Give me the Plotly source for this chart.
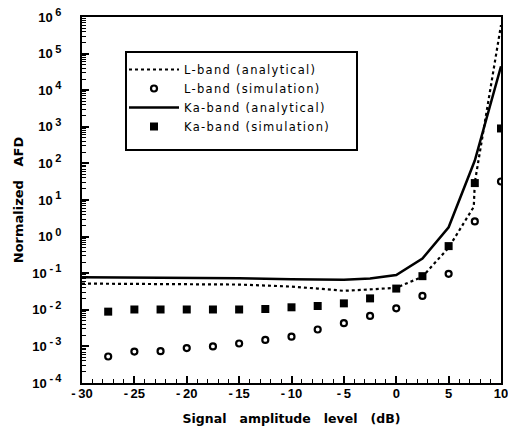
import plotly.graph_objects as go

# ---- data ----
sim_x = [-27.5, -25, -22.5, -20, -17.5, -15, -12.5, -10, -7.5, -5, -2.5, 0, 2.5, 5, 7.5, 10]
l_sim = [5.3e-4, 7.2e-4, 7.4e-4, 9.0e-4, 1.0e-3, 1.2e-3, 1.5e-3, 1.84e-3, 2.9e-3, 4.3e-3,
         6.8e-3, 1.1e-2, 2.4e-2, 0.096, 2.6, 32]
ka_sim = [0.0089, 0.0102, 0.0102, 0.0102, 0.0102, 0.0102, 0.0105, 0.0117, 0.0127, 0.015,
          0.0205, 0.038, 0.083, 0.55, 29, 900]

l_an_x = [-30, -25, -20, -15, -12.5, -10, -7.5, -5, -2.5, 0, 2.5, 5, 7.4, 7.5, 10]
l_an = [0.052, 0.051, 0.050, 0.049, 0.046, 0.043, 0.038, 0.033, 0.036, 0.040, 0.08, 0.5,
        6.5, 30, 6e5]

ka_an_x = [-30, -25, -20, -15, -10, -5, -2.5, 0, 2.5, 5, 7.5, 10]
ka_an = [0.077, 0.076, 0.075, 0.073, 0.068, 0.066, 0.072, 0.089, 0.25, 1.8, 120, 4.5e4]

names = ["L-band (analytical)", "L-band (simulation)", "Ka-band (analytical)", "Ka-band (simulation)"]

x_ticks = [-30, -25, -20, -15, -10, -5, 0, 5, 10]
x_ticktext = ["-\u200930", "-\u200925", "-\u200920", "-\u200915", "-\u200910", "-\u20095", "0", "5", "10"]
y_exps = [-4, -3, -2, -1, 0, 1, 2, 3, 4, 5, 6]
y_ticks = [10.0 ** e for e in y_exps]

FONT = "Liberation Sans, Arial, Helvetica, sans-serif"
DV = "DejaVu Sans, sans-serif"


def sup_label(e):
    s = ("-\u2009%d" % -e) if e < 0 else "%d" % e
    return "10\u2009<sup><span style='font-size:11px'>%s</span></sup>" % s


y_ticktext = [sup_label(e) for e in y_exps]


def spaced(t):
    return "<span style='letter-spacing:1.3px'>%s</span>" % t


# plot-area pixel geometry (for placing legend frame)
L, R, T, B, W, H = 82, 7, 17, 53, 508, 436
PW, PH = W - L - R, H - T - B


def px_x(v):
    return (v - L) / PW


def px_y(v):
    return (H - B - v) / PH


fig = go.Figure()
fig.add_trace(go.Scatter(x=l_an_x, y=l_an, mode="lines", name=spaced(names[0]),
                         line=dict(color="black", width=2.2, dash="dot")))
fig.add_trace(go.Scatter(x=sim_x, y=l_sim, mode="markers", name=spaced(names[1]),
                         marker=dict(symbol="circle-open", size=6, color="black",
                                     line=dict(width=2.2, color="black"))))
fig.add_trace(go.Scatter(x=ka_an_x, y=ka_an, mode="lines", name=spaced(names[2]),
                         line=dict(color="black", width=2.5)))
fig.add_trace(go.Scatter(x=sim_x, y=ka_sim, mode="markers", name=spaced(names[3]),
                         marker=dict(symbol="square", size=8, color="black")))

fig.add_shape(type="rect", xref="paper", yref="paper",
              x0=px_x(126), x1=px_x(357), y0=px_y(150), y1=px_y(52),
              line=dict(color="black", width=2), fillcolor="white", layer="below")

fig.update_layout(
    width=W, height=H,
    margin=dict(l=L, r=R, t=T, b=B, autoexpand=False),
    paper_bgcolor="white", plot_bgcolor="white",
    font=dict(family=FONT, color="black", size=11),
    showlegend=True,
    legend=dict(x=px_x(124), y=px_y(55), xanchor="left", yanchor="top",
                borderwidth=0, bgcolor="rgba(0,0,0,0)",
                itemwidth=50, tracegroupgap=0,
                font=dict(family=DV, size=11.5, color="black")),
    xaxis=dict(range=[-30, 10], tickmode="array", tickvals=x_ticks, ticktext=x_ticktext,
               ticks="inside", ticklen=7, tickwidth=1.5, tickcolor="black",
               showline=True, linewidth=2, linecolor="black", mirror=True,
               showgrid=False, zeroline=False, ticklabelstandoff=-3, automargin=False,
               ticklabeloverflow="allow",
               minor=dict(tickmode="linear", tick0=-30, dtick=1, ticks="inside", ticklen=4,
                          tickwidth=1.2, tickcolor="black", showgrid=False),
               tickfont=dict(family=FONT, size=13, weight="bold"),
               title=dict(text="Signal   amplitude   level   (dB)", standoff=15,
                          font=dict(family=DV, size=12.5, weight="bold"))),
    yaxis=dict(type="log", range=[-4, 6], tickmode="array", tickvals=y_ticks, ticktext=y_ticktext,
               ticks="inside", ticklen=7, tickwidth=1.5, tickcolor="black",
               showline=True, linewidth=2, linecolor="black", mirror=True,
               showgrid=False, zeroline=False, ticklabelstandoff=16, automargin=False,
               ticklabeloverflow="allow",
               minor=dict(tickmode="linear", dtick="D1", ticks="inside", ticklen=4,
                          tickwidth=1.2, tickcolor="black", showgrid=False),
               tickfont=dict(family=FONT, size=13, weight="bold"),
               title=dict(text="Normalized   AFD", standoff=6,
                          font=dict(family=DV, size=13, weight="bold"))),
)

fig.write_html("out.html", config={"displayModeBar": False},
               post_script="document.body.style.margin='0';")
